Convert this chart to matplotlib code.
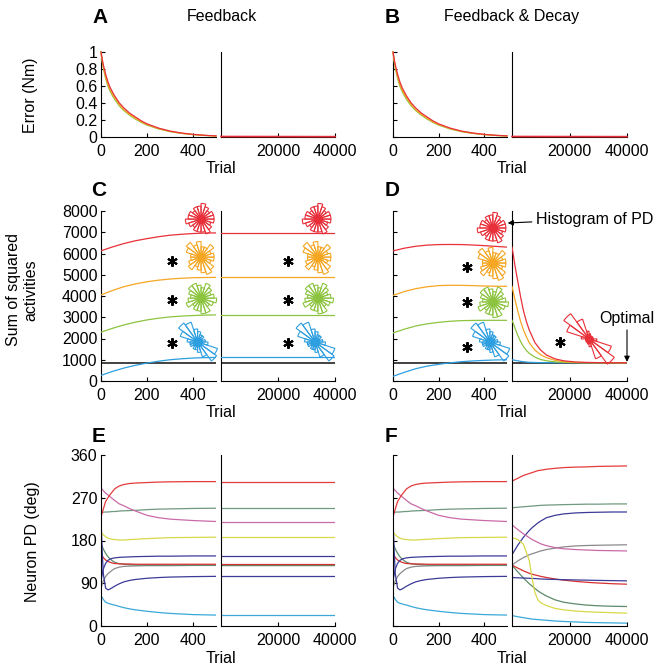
import numpy as np
import matplotlib.pyplot as plt

plt.rcParams['font.family'] = ['Liberation Sans', 'DejaVu Sans']
plt.rcParams['font.size'] = 11.5

W, H = 661, 667

# ---- panel A/B : error ----
err_trials = [0, 5, 10, 20, 30, 40, 50, 60, 80, 100, 125, 150, 175, 200, 250, 300, 350, 400, 450, 500]
err_red = [1.0, 0.92, 0.85, 0.74, 0.65, 0.58, 0.53, 0.48, 0.40, 0.34, 0.28, 0.235, 0.19, 0.155, 0.105, 0.07, 0.047, 0.031, 0.02, 0.013]
err_orange = [1.0, 0.90, 0.83, 0.71, 0.62, 0.555, 0.505, 0.46, 0.38, 0.32, 0.265, 0.22, 0.18, 0.147, 0.10, 0.066, 0.044, 0.029, 0.019, 0.012]
err_green = [1.0, 0.89, 0.81, 0.69, 0.60, 0.535, 0.485, 0.44, 0.365, 0.31, 0.255, 0.21, 0.172, 0.14, 0.095, 0.063, 0.042, 0.028, 0.018, 0.012]
long_ends = [0, 40000]
err_long = [0.006, 0.004]

# ---- panel C/D : sum of squared activities ----
act_trials = [0, 50, 100, 150, 200, 250, 300, 350, 400, 450, 500]
c_red = [6125, 6310, 6470, 6600, 6700, 6790, 6860, 6905, 6940, 6960, 6970]
c_orange = [4050, 4260, 4440, 4570, 4670, 4745, 4800, 4835, 4860, 4870, 4875]
c_green = [2300, 2480, 2640, 2770, 2875, 2955, 3015, 3055, 3080, 3100, 3110]
c_blue = [265, 450, 610, 740, 845, 930, 1000, 1045, 1080, 1100, 1110]
optimal = 860

d_red = [6120, 6250, 6340, 6395, 6420, 6425, 6420, 6400, 6370, 6335, 6300]
d_orange = [4030, 4210, 4345, 4435, 4490, 4505, 4500, 4490, 4470, 4460, 4455]
d_green = [2260, 2440, 2590, 2690, 2760, 2810, 2840, 2850, 2855, 2855, 2855]
d_blue = [220, 410, 580, 700, 785, 855, 910, 945, 970, 990, 1000]

decay_trials = [0, 500, 1000, 2000, 3000, 4000, 5000, 6000, 8000, 10000, 12000, 15000, 18000, 22000, 26000, 30000, 35000, 40000]
dl_red = [6300, 5900, 5450, 4700, 3950, 3300, 2800, 2400, 1800, 1450, 1220, 1040, 950, 895, 875, 865, 860, 860]
dl_orange = [4455, 4150, 3850, 3300, 2800, 2400, 2080, 1800, 1450, 1230, 1100, 970, 910, 875, 865, 862, 860, 860]
dl_green = [2855, 2700, 2500, 2150, 1850, 1620, 1440, 1300, 1120, 1010, 950, 900, 878, 865, 862, 860, 860, 860]
dl_blue = [1000, 990, 975, 950, 925, 905, 890, 880, 870, 865, 862, 860, 860, 860, 860, 860, 860, 860]

# rose histograms of PD (counts in 20 bins of 18 deg)
rose_uniform = [5, 5, 4, 5, 6, 5, 5, 4, 5, 5, 6, 5, 4, 5, 5, 5, 6, 5, 4, 5]
rose_orange = [5, 4, 6, 4, 4, 6, 5, 7, 6, 4, 4, 5, 6, 4, 5, 6, 7, 6, 4, 5]
rose_green = [5, 4, 5, 6, 4, 5, 6, 6, 5, 4, 5, 6, 4, 5, 5, 6, 6, 4, 5, 6]
rose_blue = [3, 2, 3, 3, 4, 5, 8, 9, 7, 4, 3, 3, 2, 3, 3, 4, 6, 9, 8, 4]
rose_decay = [1, 1, 1, 1, 2, 3, 8, 12, 9, 3, 1, 1, 1, 1, 2, 3, 8, 12, 9, 3]

c_rose_x = [435, 435, 435, 420]
c_rose_long_x = [34000, 34000, 34000, 33000]
c_rose_y = [7620, 5830, 3900, 1835]
d_rose_x = [438, 438, 438, 425]
d_rose_y = [7200, 5550, 3720, 1835]
d_rose_long = (26800, 1980)

c_star_x, c_star_long_x, c_star_y = 309, 23500, [5650, 3810, 1790]
d_star_x, d_star_y = 325, [5360, 3720, 1600]
d_star_long = (16700, 1830)

# ---- panel E/F : neuron PD ----
pd_trials = [0, 5, 10, 20, 30, 40, 50, 60, 80, 100, 125, 150, 200, 250, 300, 400, 500]
pd_red1 = [230, 238, 246, 262, 270, 277, 283, 289, 295, 298, 300, 301, 302, 303, 303.5, 304, 304]
pd_pink = [290, 288, 285, 280, 276, 272, 268, 264, 257, 253, 247, 242, 233, 228, 225, 222, 220]
pd_ggreen = [239, 239, 239.5, 240, 240, 240.5, 241, 241, 242, 242.5, 243, 243.5, 245, 246, 246.5, 247.5, 248]
pd_yellow = [197, 195, 192, 188, 185, 183.5, 182.5, 182, 181, 181, 182, 182.5, 184, 185, 186, 186.5, 187]
pd_navy1 = [95, 108, 120, 132, 138, 141, 142.5, 143.5, 144.5, 145, 145.5, 146, 146.5, 147, 147, 147.5, 147.5]
pd_red2 = [152, 148, 144, 139, 136, 134, 132.5, 131.5, 131, 130.5, 130.5, 130, 130, 130, 130, 130, 130]
pd_ggreen2 = [175, 168, 162, 153, 146, 141, 137, 134, 131, 130, 129, 128.5, 128, 128, 128, 128, 128]
pd_gray = [80, 88, 95, 104, 110, 114, 118, 121, 124, 125.5, 126, 126.5, 127, 127, 127, 127.5, 127.5]
pd_navy2 = [225, 160, 110, 80, 76, 78, 81, 84, 89, 93, 96, 98, 100.5, 102, 103, 104, 104.5]
pd_cyan = [65, 60, 56, 50, 48, 46.5, 45, 44, 41, 38.5, 36, 34, 31, 28.5, 26.5, 24, 23]

pdl_trials = [0, 2000, 4000, 6000, 7000, 8000, 9000, 10000, 12000, 15000, 18000, 22000, 26000, 30000, 35000, 40000]
pdl_red1 = [305, 311, 317, 321, 323, 325, 327, 328, 330, 332, 333.5, 334.5, 335, 336, 336.5, 337]
pdl_ggreen = [249, 250, 251, 252, 252.5, 253, 253.5, 254, 254.5, 255, 255.5, 256, 256.5, 256.5, 257, 257]
pdl_navy1 = [150, 170, 187, 201, 207, 212, 217, 221, 228, 233, 236, 238, 239, 239.5, 240, 240]
pdl_pink = [213, 203, 194, 186, 182, 179, 176, 173, 169, 165, 162.5, 161, 160, 159, 158.5, 158]
pdl_gray = [128, 137, 144, 150, 152, 154, 156, 158, 161, 164, 166.5, 168.5, 169.5, 170, 170.5, 171]
pdl_yellow = [186, 182, 172, 138, 100, 70, 55, 49, 43, 37, 34, 31.5, 30, 29, 28, 27]
pdl_red2 = [128, 122, 116, 111, 109, 107.5, 106, 104.5, 102, 99, 96.5, 94, 92, 90.5, 89, 88]
pdl_navy2 = [102, 101.5, 101, 100.5, 100, 100, 99.5, 99, 98.5, 98, 97.5, 97, 96.5, 96, 95.5, 95]
pdl_ggreen2 = [128, 114, 101, 89, 84, 79, 74, 70, 63, 55, 50, 46.5, 44, 42.5, 41.5, 41]
pdl_cyan = [22, 19.5, 17.5, 15.5, 14.5, 14, 13.5, 13, 12, 10.5, 9.5, 8.5, 7.5, 7, 6.5, 6]

RED, ORANGE, GREEN, BLUE = '#e8303a', '#f5a623', '#8cc43f', '#2d9ee0'
pd_colors = {'red1': '#e33b3b', 'pink': '#c96aa8', 'ggreen': '#6f9980', 'yellow': '#d8d84a',
             'navy1': '#3b3b98', 'red2': '#d83030', 'ggreen2': '#5d8a6a', 'gray': '#8a8a8a',
             'navy2': '#3b3b98', 'cyan': '#3aa8d8'}

fig = plt.figure(figsize=(W / 100, H / 100), dpi=100)

cols = [(101, 216), (221, 335), (393, 507), (512, 627)]
rows = [(52, 137), (211, 381), (455, 626)]


def rect(x0, x1, yt, yb):
    return [x0 / W, 1 - yb / H, (x1 - x0) / W, (yb - yt) / H]


def style(ax, long, labels):
    for s in ['top', 'right']:
        ax.spines[s].set_visible(False)
    for s in ['left', 'bottom']:
        ax.spines[s].set_linewidth(0.8)
    ax.tick_params(direction='in', length=3, width=0.8, labelsize=11.5)
    ax.tick_params(axis='x', pad=5)
    ax.tick_params(axis='y', pad=2.5)
    if long:
        ax.set_xlim(0, 40000)
        ax.set_xticks([20000, 40000])
        ax.tick_params(axis='y', left=False, labelleft=False)
    else:
        ax.set_xlim(0, 500)
        ax.set_xticks([0, 200, 400])
        if not labels:
            ax.tick_params(axis='y', labelleft=False)


grid = []
for (yt, yb) in rows:
    r = []
    for i, (x0, x1) in enumerate(cols):
        ax = fig.add_axes(rect(x0, x1, yt, yb))
        style(ax, i % 2 == 1, i == 0)
        r.append(ax)
    grid.append(r)

lw = 0.9

# ---- row 1 ----
for ax in grid[0]:
    ax.set_ylim(0, 1)
    ax.set_yticks([0, 0.2, 0.4, 0.6, 0.8, 1])
grid[0][0].set_yticklabels(['0', '0.2', '0.4', '0.6', '0.8', '1'])
for k in [0, 2]:
    ax = grid[0][k]
    ax.plot(err_trials, err_green, color=GREEN, lw=lw, zorder=3, clip_on=False)
    ax.plot(err_trials, err_orange, color=ORANGE, lw=lw, zorder=3, clip_on=False)
    ax.plot(err_trials, err_red, color=RED, lw=lw, zorder=3, clip_on=False)
for k in [1, 3]:
    ax = grid[0][k]
    ax.plot(long_ends, err_long, color=RED, lw=1.2, zorder=3, clip_on=False)

# ---- row 2 ----
for ax in grid[1]:
    ax.set_ylim(0, 8000)
    ax.set_yticks(range(0, 8001, 1000))

axC1, axC2, axD1, axD2 = grid[1]
for ax in grid[1]:
    ax.plot(ax.get_xlim(), [optimal, optimal], color='#333333', lw=1.3, zorder=2)

for vals, col in [(c_red, RED), (c_orange, ORANGE), (c_green, GREEN), (c_blue, BLUE)]:
    axC1.plot(act_trials, vals, color=col, lw=lw, zorder=3)
    axC2.plot(long_ends, [vals[-1], vals[-1]], color=col, lw=lw, zorder=3)
for vals, col in [(d_red, RED), (d_orange, ORANGE), (d_green, GREEN), (d_blue, BLUE)]:
    axD1.plot(act_trials, vals, color=col, lw=lw, zorder=3)
for vals, col in [(dl_blue, BLUE), (dl_green, GREEN), (dl_orange, ORANGE), (dl_red, RED)]:
    axD2.plot(decay_trials, vals, color=col, lw=lw, zorder=3)

star = dict(marker=(6, 2, 0), ms=7.5, mew=1.5, color='black', ls='none')
axC1.plot([c_star_x] * 3, c_star_y, **star)
axC2.plot([c_star_long_x] * 3, c_star_y, **star)
axD1.plot([d_star_x] * 3, d_star_y, **star)
axD2.plot([d_star_long[0]], [d_star_long[1]], **star)

bins = np.deg2rad(np.arange(9, 360, 18))
R = 36


def rose(ax, x, y, counts, color):
    cx, cy = ax.transData.transform((x, y))
    pax = fig.add_axes([(cx - R) / W, (cy - R) / H, 2 * R / W, 2 * R / H], projection='polar')
    pax.bar(bins, counts, width=np.deg2rad(18), bottom=0, facecolor='none',
            edgecolor=color, linewidth=0.8)
    pax.plot([0], [0], 'o', color=color, ms=5.5)
    pax.set_ylim(0, R / 2.6)
    pax.set_axis_off()


shapes = [(rose_uniform, RED), (rose_orange, ORANGE), (rose_green, GREEN), (rose_blue, BLUE)]
for i, (cnt, col) in enumerate(shapes):
    rose(axC1, c_rose_x[i], c_rose_y[i], cnt, col)
    rose(axC2, c_rose_long_x[i], c_rose_y[i], cnt, col)
    rose(axD1, d_rose_x[i], d_rose_y[i], cnt, col)
rose(axD2, d_rose_long[0], d_rose_long[1], rose_decay, RED)

axD2.annotate('Histogram of PD', xy=(503, 7435), xycoords=axD1.transData,
              xytext=(8350, 7620), textcoords='data', ha='left', va='center',
              fontsize=11.5, annotation_clip=False,
              arrowprops=dict(arrowstyle='-|>', color='black', lw=0.8,
                              mutation_scale=8, shrinkA=1, shrinkB=0))
axD2.annotate('Optimal', xy=(40000, 900), xytext=(40000, 2950), ha='center', va='center',
              fontsize=11.5, annotation_clip=False,
              arrowprops=dict(arrowstyle='-|>', color='black', lw=0.8,
                              mutation_scale=8, shrinkA=1, shrinkB=0))

# ---- row 3 ----
for ax in grid[2]:
    ax.set_ylim(0, 360)
    ax.set_yticks([0, 90, 180, 270, 360])

axE1, axE2, axF1, axF2 = grid[2]
left_pd = [('cyan', pd_cyan), ('gray', pd_gray), ('ggreen2', pd_ggreen2), ('red2', pd_red2),
           ('navy2', pd_navy2), ('navy1', pd_navy1), ('yellow', pd_yellow),
           ('ggreen', pd_ggreen), ('pink', pd_pink), ('red1', pd_red1)]
for name, vals in left_pd:
    axE1.plot(pd_trials, vals, color=pd_colors[name], lw=lw)
    axF1.plot(pd_trials, vals, color=pd_colors[name], lw=lw)
    axE2.plot(long_ends, [vals[-1], vals[-1]], color=pd_colors[name], lw=lw)

long_pd = [('cyan', pdl_cyan), ('gray', pdl_gray), ('ggreen2', pdl_ggreen2), ('red2', pdl_red2),
           ('navy2', pdl_navy2), ('navy1', pdl_navy1), ('yellow', pdl_yellow),
           ('ggreen', pdl_ggreen), ('pink', pdl_pink), ('red1', pdl_red1)]
for name, vals in long_pd:
    axF2.plot(pdl_trials, vals, color=pd_colors[name], lw=lw)

# ---- texts ----
def ftext(x, y, s, **kw):
    fig.text(x / W, 1 - y / H, s, **kw)


ftext(222, 21, 'Feedback', ha='center', va='baseline')
ftext(512, 21, 'Feedback & Decay', ha='center', va='baseline')
for letter, x, y in [('A', 92, 23), ('B', 385, 23), ('C', 91, 196), ('D', 385, 196),
                     ('E', 92, 442), ('F', 385, 442)]:
    ftext(x, y, letter, fontsize=15, fontweight='bold', va='baseline')
for y in [173, 417, 663]:
    ftext(221, y, 'Trial', ha='center', va='baseline')
    ftext(512, y, 'Trial', ha='center', va='baseline')

ftext(30, 95, 'Error (Nm)', rotation=90, ha='center', va='center')
ftext(22, 290, 'Sum of squared\nactivities', rotation=90, ha='center', va='center',
      multialignment='center')
ftext(32, 542, 'Neuron PD (deg)', rotation=90, ha='center', va='center')

fig.savefig('out.png', dpi=100)
